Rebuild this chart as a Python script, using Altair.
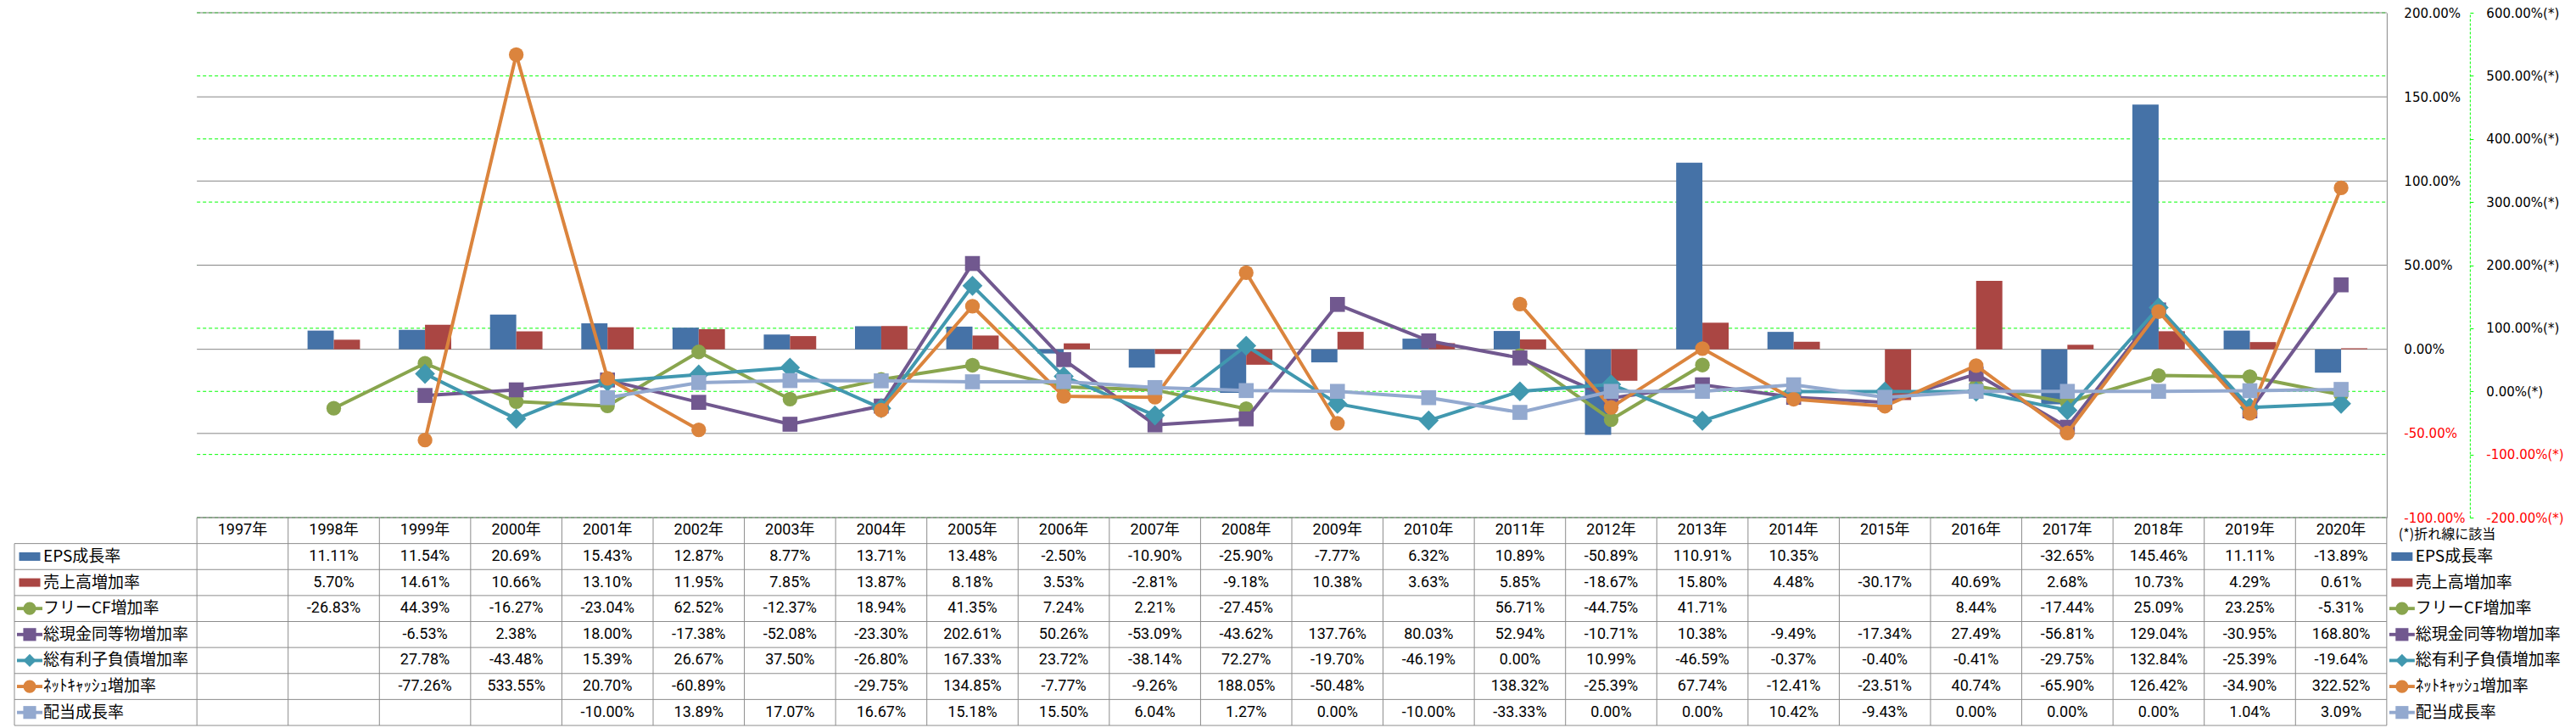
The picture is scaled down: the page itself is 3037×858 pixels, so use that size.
import altair as alt
import pandas as pd

# ---------------- data ----------------
YEARS = [f"{y}年" for y in range(1997, 2021)]
SERIES = ["EPS成長率", "売上高増加率", "フリーCF増加率", "総現金同等物増加率",
          "総有利子負債増加率", "ﾈｯﾄｷｬｯｼｭ増加率", "配当成長率"]
EPS = [None, 11.11, 11.54, 20.69, 15.43, 12.87, 8.77, 13.71, 13.48, -2.50, -10.90, -25.90,
       -7.77, 6.32, 10.89, -50.89, 110.91, 10.35, None, None, -32.65, 145.46, 11.11, -13.89]
SALES = [None, 5.70, 14.61, 10.66, 13.10, 11.95, 7.85, 13.87, 8.18, 3.53, -2.81, -9.18,
         10.38, 3.63, 5.85, -18.67, 15.80, 4.48, -30.17, 40.69, 2.68, 10.73, 4.29, 0.61]
FCF = [None, -26.83, 44.39, -16.27, -23.04, 62.52, -12.37, 18.94, 41.35, 7.24, 2.21, -27.45,
       None, None, 56.71, -44.75, 41.71, None, None, 8.44, -17.44, 25.09, 23.25, -5.31]
CASH = [None, None, -6.53, 2.38, 18.00, -17.38, -52.08, -23.30, 202.61, 50.26, -53.09, -43.62,
        137.76, 80.03, 52.94, -10.71, 10.38, -9.49, -17.34, 27.49, -56.81, 129.04, -30.95, 168.80]
DEBT = [None, None, 27.78, -43.48, 15.39, 26.67, 37.50, -26.80, 167.33, 23.72, -38.14, 72.27,
        -19.70, -46.19, 0.00, 10.99, -46.59, -0.37, -0.40, -0.41, -29.75, 132.84, -25.39, -19.64]
NETCASH = [None, None, -77.26, 533.55, 20.70, -60.89, None, -29.75, 134.85, -7.77, -9.26, 188.05,
           -50.48, None, 138.32, -25.39, 67.74, -12.41, -23.51, 40.74, -65.90, 126.42, -34.90, 322.52]
DIV = [None, None, None, None, -10.00, 13.89, 17.07, 16.67, 15.18, 15.50, 6.04, 1.27,
       0.00, -10.00, -33.33, 0.00, 0.00, 10.42, -9.43, 0.00, 0.00, 0.00, 1.04, 3.09]
VALUES = [EPS, SALES, FCF, CASH, DEBT, NETCASH, DIV]
COLORS = ["#4572A7", "#AA4643", "#89A54E", "#71588F", "#4198AF", "#DB843D", "#93A9CF"]
KINDS = ["bar", "bar", "circle", "square", "diamond", "circle", "square"]
PRIMARY_TICKS = [-100, -50, 0, 50, 100, 150, 200]
SECONDARY_TICKS = [-200, -100, 0, 100, 200, 300, 400, 500, 600]
NOTE = "(*)折れ線に該当"

# ---------------- layout ----------------
W = 3012
H_PLOT = 595
H_TABLE = 245
LEFT = ["_L1", "_L2"]
RIGHT = ["_R1", "_R2"]
XCATS = LEFT + YEARS + RIGHT
NCOL = len(XCATS)
COLW = W / NCOL
FIRST = len(LEFT)
LAST = FIRST + len(YEARS)
NROWS = len(SERIES) + 1

AXIS_FONT = "DejaVu Sans"
TABLE_FONT = "Roboto, Noto Sans CJK JP"
CJK_FONT = "Noto Sans CJK JP"
GRID_GREY = "#868686"
LINE_GREY = "#8C8C8C"
GREEN = "#00FF00"


def pct(v):
    return ("-" if v < 0 else "") + f"{abs(v):.2f}%"


x_band = alt.Scale(type="band", domain=XCATS, paddingInner=0, paddingOuter=0)
x_num = alt.Scale(domain=[0, NCOL], nice=False, zero=False)
y1 = alt.Scale(domain=[PRIMARY_TICKS[0], PRIMARY_TICKS[-1]], nice=False)
y2 = alt.Scale(domain=[SECONDARY_TICKS[0], SECONDARY_TICKS[-1]], nice=False)
color_scale = alt.Scale(domain=SERIES, range=COLORS)

neg_red = {"condition": {"test": "datum.value < 0", "value": "#FF0000"}, "value": "#000000"}

primary_axis = alt.Axis(
    orient="right", offset=-(NCOL - LAST) * COLW, values=PRIMARY_TICKS, grid=False,
    ticks=False, domain=True, domainColor=GRID_GREY, domainWidth=1, labelPadding=20,
    labelFont=AXIS_FONT, labelFontSize=15, labelColor=neg_red, title=None,
    labelExpr="(datum.value < 0 ? '-' : '') + format(abs(datum.value), '.2f') + '%'")
secondary_axis = alt.Axis(
    orient="right", offset=-(NCOL - LAST) * COLW + 98, values=SECONDARY_TICKS, grid=False,
    ticks=True, tickSize=4, tickColor=GREEN, domain=True, domainColor=GREEN,
    domainDash=[3, 2], domainWidth=1, labelPadding=15,
    labelFont=AXIS_FONT, labelFontSize=15, labelColor=neg_red, title=None,
    labelExpr="(datum.value < 0 ? '-' : '') + format(abs(datum.value), '.2f') + '%(*)'")

# gridlines
grid2 = alt.Chart(pd.DataFrame({"v": SECONDARY_TICKS, "x0": FIRST, "x1": LAST})).mark_rule(
    color=GREEN, strokeDash=[4, 3], strokeWidth=1).encode(
    x=alt.X("x0:Q", scale=x_num, axis=None), x2="x1:Q",
    y=alt.Y("v:Q", scale=y2, axis=secondary_axis))
grid1 = alt.Chart(pd.DataFrame({"v": PRIMARY_TICKS, "x0": FIRST, "x1": LAST})).mark_rule(
    color=GRID_GREY, strokeWidth=1).encode(
    x=alt.X("x0:Q", scale=x_num, axis=None), x2="x1:Q",
    y=alt.Y("v:Q", scale=y1, axis=primary_axis))

# bars
bar_rows = []
for name, vals, kind in zip(SERIES, VALUES, KINDS):
    if kind != "bar":
        continue
    for yr, v in zip(YEARS, vals):
        if v is not None:
            bar_rows.append({"year": yr, "name": name, "v": v})
bar_names = [n for n, k in zip(SERIES, KINDS) if k == "bar"]
bars = alt.Chart(pd.DataFrame(bar_rows)).mark_bar().encode(
    x=alt.X("year:N", scale=x_band, axis=None),
    xOffset=alt.XOffset("name:N", scale=alt.Scale(domain=bar_names, paddingInner=0, paddingOuter=0.74)),
    y=alt.Y("v:Q", scale=y1, axis=None),
    color=alt.Color("name:N", scale=color_scale, legend=None))

SIZES = {"circle": 300, "square": 310, "diamond": 560}
line_layers = []
for name, vals, col, kind in zip(SERIES, VALUES, COLORS, KINDS):
    if kind == "bar":
        continue
    rows, seg = [], 0
    for yr, v in zip(YEARS, vals):
        if v is None:
            seg += 1
            continue
        rows.append({"year": yr, "v": v, "seg": seg})
    d = pd.DataFrame(rows)
    line_layers.append(alt.Chart(d).mark_line(
        color=col, strokeWidth=4, strokeJoin="round", strokeCap="round").encode(
        x=alt.X("year:N", scale=x_band, axis=None),
        y=alt.Y("v:Q", scale=y2, axis=None), detail="seg:N"))
    line_layers.append(alt.Chart(d).mark_point(
        shape=kind, filled=True, opacity=1, size=SIZES[kind], color=col).encode(
        x=alt.X("year:N", scale=x_band, axis=None),
        y=alt.Y("v:Q", scale=y2, axis=None)))

plot = alt.layer(grid2, grid1, bars, *line_layers).resolve_scale(
    x="independent", y="independent").properties(width=W, height=H_PLOT)

# ---------------- table ----------------
y_tab = alt.Scale(domain=[0, NROWS], reverse=True, nice=False, zero=False)

hl = pd.DataFrame({"y": list(range(NROWS + 1)),
                   "x0": [FIRST] + [0] * NROWS, "x1": [LAST] * (NROWS + 1)})
vl = pd.DataFrame({"x": [0] + list(range(FIRST, LAST + 1)),
                   "y0": [1] + [0] * (LAST - FIRST + 1), "y1": [NROWS] * (LAST - FIRST + 2)})
hlines = alt.Chart(hl).mark_rule(color=LINE_GREY, strokeWidth=1).encode(
    x=alt.X("x0:Q", scale=x_num, axis=None), x2="x1:Q",
    y=alt.Y("y:Q", scale=y_tab, axis=None))
vlines = alt.Chart(vl).mark_rule(color=LINE_GREY, strokeWidth=1).encode(
    x=alt.X("x:Q", scale=x_num, axis=None),
    y=alt.Y("y0:Q", scale=y_tab, axis=None), y2="y1:Q")

cells = []
for i, yr in enumerate(YEARS):
    cells.append({"col": FIRST + i, "row": 0, "t": yr})
for r, vals in enumerate(VALUES):
    for i, v in enumerate(vals):
        if v is not None:
            cells.append({"col": FIRST + i, "row": r + 1, "t": pct(v)})
cell_text = alt.Chart(pd.DataFrame(cells)).transform_calculate(
    xc="datum.col + 0.5", yc="datum.row + 0.5").mark_text(
    font=TABLE_FONT, fontSize=18, align="center", baseline="middle", color="#000000").encode(
    x=alt.X("xc:Q", scale=x_num, axis=None), y=alt.Y("yc:Q", scale=y_tab, axis=None), text="t:N")

leg = []
for r, (name, kind) in enumerate(zip(SERIES, KINDS)):
    for side in (0, LAST):
        leg.append({"col": side, "row": r + 1, "name": name, "kind": kind})
leg_df = pd.DataFrame(leg)
leg_base = alt.Chart(leg_df).transform_calculate(yc="datum.row + 0.5")
color_enc = alt.Color("name:N", scale=color_scale, legend=None)
x_enc = alt.X("col:Q", scale=x_num, axis=None)
y_enc = alt.Y("yc:Q", scale=y_tab, axis=None)

leg_text = leg_base.mark_text(font=CJK_FONT, fontSize=19, align="left", baseline="middle",
                              dx=34, color="#000000").encode(x=x_enc, y=y_enc, text="name:N")
leg_rect = leg_base.transform_filter("datum.kind == 'bar'").mark_point(
    shape="M-1,-0.4H1V0.4H-1Z", filled=True, opacity=1, size=625).encode(
    x=x_enc, y=y_enc, color=color_enc, xOffset=alt.value(18))
leg_line = leg_base.transform_filter("datum.kind != 'bar'").mark_point(
    shape="M-1,-0.13H1V0.13H-1Z", filled=True, opacity=1, size=900).encode(
    x=x_enc, y=y_enc, color=color_enc, xOffset=alt.value(18))
leg_mark = leg_base.transform_filter("datum.kind != 'bar'").mark_point(
    filled=True, opacity=1, size=230).encode(
    x=x_enc, y=y_enc, color=color_enc, xOffset=alt.value(18),
    shape=alt.Shape("kind:N", scale=alt.Scale(domain=["circle", "square", "diamond"],
                                              range=["circle", "square", "diamond"]), legend=None))
note = alt.Chart(pd.DataFrame({"col": [LAST], "row": [0], "t": [NOTE]})).transform_calculate(
    yc="datum.row + 0.5").mark_text(font=CJK_FONT, fontSize=16, align="left", baseline="middle",
                                    dx=14, dy=5, color="#000000").encode(
    x=x_enc, y=y_enc, text="t:N")

table = alt.layer(hlines, vlines, cell_text, leg_text, leg_rect, leg_line, leg_mark, note).properties(
    width=W, height=H_TABLE)

chart = alt.vconcat(plot, table, spacing=0, bounds="flush",
                    padding={"left": 8, "top": 0, "right": 0, "bottom": 0}).resolve_scale(
    color="independent", shape="independent").configure_view(strokeWidth=0)

chart.save("out.html", embed_options={"renderer": "svg", "actions": False})
